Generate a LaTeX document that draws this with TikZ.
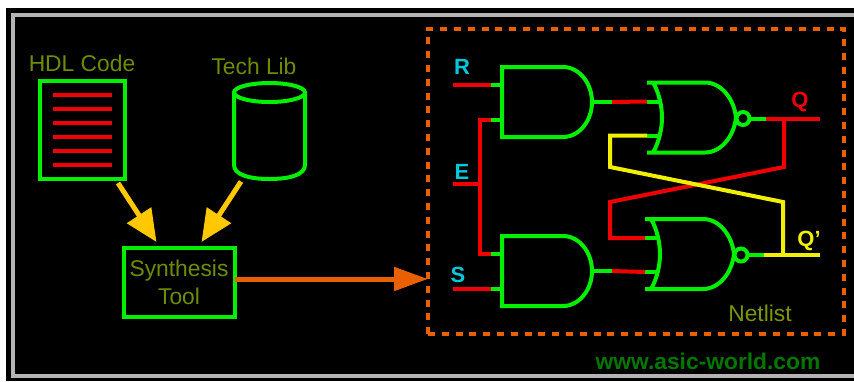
\documentclass[tikz,border=0pt]{standalone}
\usepackage{fontspec}
\setmainfont{Liberation Sans}
\usepackage{xcolor}
\usetikzlibrary{arrows.meta,positioning}
\definecolor{framegray}{HTML}{B4B4B4}
\definecolor{gategreen}{HTML}{00F000}
\definecolor{wirered}{HTML}{F00000}
\definecolor{wireyellow}{HTML}{F0F000}
\definecolor{labelolive}{HTML}{6E8C00}
\definecolor{netolive}{HTML}{7C9600}
\definecolor{pincyan}{HTML}{00C8DC}
\definecolor{flowamber}{HTML}{FFC800}
\definecolor{floworange}{HTML}{E86000}
\definecolor{urlgreen}{HTML}{007800}

\begin{document}
\begin{tikzpicture}[
  x=1pt,y=-1pt,
  every node/.style={align=center,inner sep=0pt,font=\fontsize{22.8}{28}\selectfont},
  block/.style={draw=gategreen,line width=4pt,text=labelolive},
  title/.style={text=labelolive},
  pinlbl/.style={font=\fontsize{22}{24}\selectfont\bfseries,text=pincyan},
  wire/.style={line width=4pt,draw=wirered,line join=miter},
  fbwire/.style={line width=4pt,draw=wireyellow,line join=miter},
  gateline/.style={line width=4pt,draw=gategreen},
  flow/.style={line width=5pt,draw=flowamber,-{Triangle[length=32pt,width=28pt]}},
  andgate/.pic={
    \draw[gateline] (0,-35) -- (61,-35) .. controls (77,-35) and (90,-19) .. (90,0)
      .. controls (90,19) and (77,35) .. (61,35) -- (0,35) -- cycle;
    \draw[gateline] (-11,-17.5) -- (0,-17.5) (-11,17.5) -- (0,17.5) (90,0) -- (110,0);
    \coordinate (-a) at (-11,-17.5);
    \coordinate (-b) at (-11,17.5);
    \coordinate (-y) at (110,0);
  },
  norgate/.pic={
    \draw[gateline] (0,-35) -- (58,-35) .. controls (74,-35) and (87,-19) .. (89,0)
      .. controls (87,19) and (74,35) .. (58,35) -- (0,35)
      (6,-35) .. controls (12,-25) and (15,-11) .. (15,0)
      .. controls (15,11) and (12,25) .. (6,35);
    \draw[gateline] (96,1) circle (6.5);
    \draw[gateline] (0,-16) -- (13,-16) (0,18) -- (13,18) (102.5,1) -- (119,1);
    \coordinate (-a) at (0,-16);
    \coordinate (-b) at (0,18);
    \coordinate (-y) at (119,1);
  }
]

% background and frame
\path[use as bounding box] (0,0) rectangle (854,381);
\fill[black] (6,8) rectangle (854,381);
\node[draw=framegray,line width=4pt,minimum width=857pt,minimum height=361pt,
  outer sep=0pt] (frame) at (441.5,195.5) {};

% left side: tools
\node[block,minimum width=85pt,minimum height=98pt,outer sep=0pt] (hdl) at (82.5,130) {};
\foreach \y in {95,109,...,165}
  \draw[wirered,line width=3.4pt] (53,\y) -- (112,\y);
\node[title] (hdllbl) at (82,63) {HDL Code};
\node[title] (techlbl) at (254,66.5) {Tech Lib};
\node[minimum width=71pt,minimum height=97pt,outer sep=0pt] (techlib) at (269.5,130.5) {};
\draw[gateline] (techlib.center |- 0,92.5) ellipse (35.5 and 9.5);
\draw[gateline] (techlib.west |- 0,92.5) -- (techlib.west |- 0,165)
  .. controls (234,175) and (250,179) .. (techlib.south)
  .. controls (289,179) and (305,175) .. (techlib.east |- 0,165) -- (techlib.east |- 0,92.5);
\node[block,minimum width=111pt,minimum height=69pt,outer sep=0pt] (synth) at (179,282.5)
  {Synthesis\\Tool};

\draw[flow] ([shift={(-7pt,-4pt)}]hdl.south east) -- ([shift={(33pt,6pt)}]synth.north west);
\draw[flow] ([shift={(7pt,-2.5pt)}]techlib.south west) -- ([shift={(-33pt,6pt)}]synth.north east);

% netlist
\node[draw=floworange,line width=4pt,dash pattern=on 7pt off 6.8pt,minimum width=416pt,
  minimum height=305pt,outer sep=0pt] (netlist) at (636,181.5) {};
\node[text=netolive] (netlbl) at (760,313) {Netlist};
\node[font=\fontsize{22.8}{28}\selectfont\bfseries,text=urlgreen] (url) at (708,361) {www.asic-world.com};

\draw[line width=5pt,draw=floworange,-{Triangle[length=34pt,width=23pt]}]
  (synth.east |- 0,279) -- (netlist.west |- 0,279);

% gates
\pic (andr) at (502,102) {andgate};
\pic (ands) at (502,271) {andgate};
\pic (norq) at (647,117.5) {norgate};
\pic (norn) at (645,254) {norgate};

% pins
\node[pinlbl] (rlbl) at (462,67) {R};
\node[pinlbl] (elbl) at (462,172) {E};
\node[pinlbl] (slbl) at (458,275) {S};
\node[pinlbl,text=wirered] (qlbl) at (800,102) {Q};
\node[pinlbl,text=wireyellow] (nqlbl) at (809,241) {Q'};
\coordinate (rpin) at (453,84.5);
\coordinate (epin) at (453,184);
\coordinate (spin) at (453,288.5);
\coordinate (qpin) at (820,118.5);
\coordinate (nqpin) at (820,255);
\coordinate (etap) at (480,184);
\coordinate (qtap) at (784,118.5);
\coordinate (nqtap) at (783,255);

% wires
\draw[wire] (rpin) -- (andr-a);
\draw[wire] (spin) -- (ands-b);
\draw[wire] (epin) -- (etap);
\draw[wire] (andr-b) -| (etap) |- (ands-a);
\draw[wire] (andr-y) -- (norq-a);
\draw[wire] (ands-y) -- (norn-b);
\draw[wire] (norq-y) -- (qpin);
\draw[wire] (qtap) -- (784,167) -- (610,202) -- (610,238) -- (norn-a);
\draw[fbwire] (norn-y) -- (nqpin);
\draw[fbwire] (nqtap) -- (783,202) -- (610,167) -- (610,135.5) -- (norq-b);
\end{tikzpicture}
\end{document}
